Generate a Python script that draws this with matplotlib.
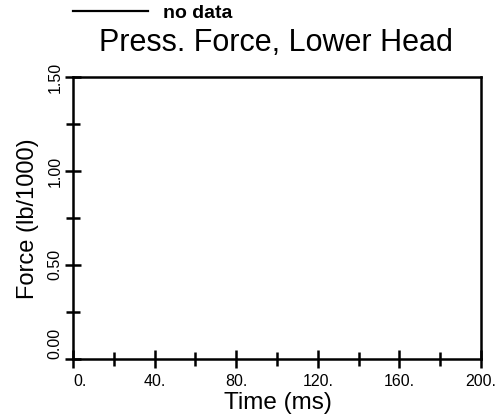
import matplotlib
matplotlib.use("Agg")
import matplotlib.pyplot as plt

plt.rcParams['font.family'] = ['Liberation Sans', 'DejaVu Sans']

# no data in this chart, just the empty frame
time_ms = []
force = []
x_major = [0, 40, 80, 120, 160, 200]
x_minor = [20, 60, 100, 140, 180]
x_labels = ['0.', '40.', '80.', '120.', '160.', '200.']
y_major = [0.0, 0.5, 1.0, 1.5]
y_minor = [0.25, 0.75, 1.25]
y_labels = ['0.00', '0.50', '1.00', '1.50']

fig = plt.figure(figsize=(4.99, 4.18), dpi=100)
ax = fig.add_axes([0.1463, 0.1423, 0.8177, 0.6723])

line, = ax.plot(time_ms, force, color='black', lw=1.6, label='no data')

ax.set_xlim(0, 200)
ax.set_ylim(0, 1.5)
for s in ax.spines.values():
    s.set_linewidth(1.8)

ax.set_xticks(x_major)
ax.set_xticks(x_minor, minor=True)
ax.set_xticklabels(x_labels, fontsize=11.5)
ax.set_yticks(y_major)
ax.set_yticks(y_minor, minor=True)
ax.set_yticklabels(y_labels, fontsize=11.5, rotation=90, va='center')
# first labels sit next to the origin instead of centred on it
ax.get_xticklabels()[0].set_ha('left')
ax.get_yticklabels()[0].set_va('bottom')

ax.tick_params(axis='x', which='major', direction='inout', length=13.5, width=1.8, pad=4.5)
ax.tick_params(axis='x', which='minor', direction='inout', length=9.5, width=1.8)
ax.tick_params(axis='y', which='major', direction='inout', length=11, width=1.8, pad=2)
ax.tick_params(axis='y', which='minor', direction='inout', length=10, width=1.8)

fig.text(0.552, 0.897, 'Press. Force, Lower Head', fontsize=22, ha='center', va='center')
fig.text(0.557, 0.035, 'Time (ms)', fontsize=17.5, ha='center', va='center')
fig.text(0.056, 0.478, 'Force (lb/1000)', fontsize=17, ha='center', va='center', rotation=90)

fig.legend(handles=[line], loc='center left', bbox_to_anchor=(0.13, 0.968), frameon=False,
           handlelength=3.9, handletextpad=0.75, borderaxespad=0,
           prop={'size': 14, 'weight': 'bold'})

fig.savefig('out.png', dpi=100)
